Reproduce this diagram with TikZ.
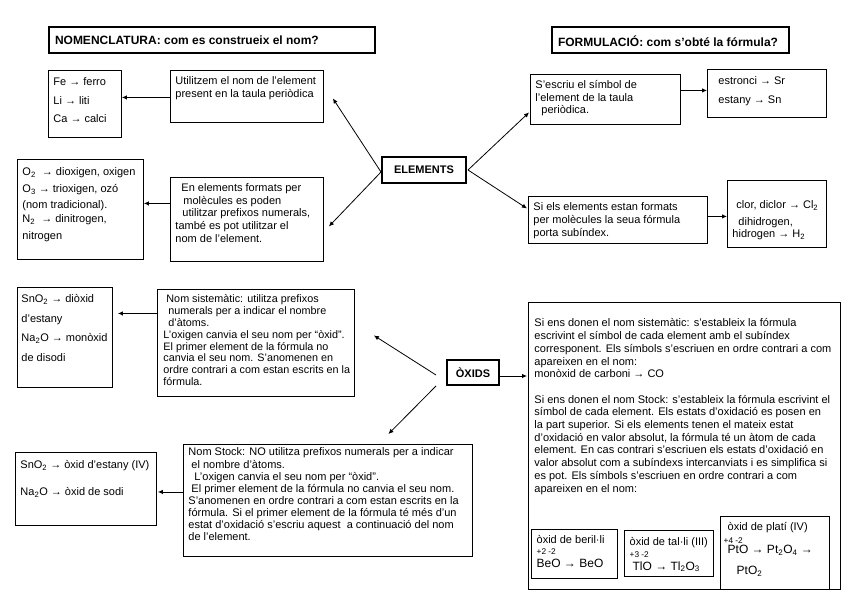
\documentclass[tikz,border=0pt]{standalone}
\usepackage{fontspec}
\setmainfont{Liberation Sans}
\usetikzlibrary{arrows.meta,calc}
\newcommand\mkbox[7][]{%
  \pgfmathsetmacro\bxw{#5-#3}%
  \pgfmathsetmacro\bxh{#6-#4}%
  \node[bx,#1] (#2) at (#3,#4) {\parbox[t][\bxh pt][t]{\bxw pt}{#7}};}
\newcommand\pd[2]{\vspace*{#1pt}\raggedright\leftskip=#2pt\relax\rule{0pt}{9pt}}
\newcommand\sbs[1]{\textsubscript{#1}}
\newcommand\ox[1]{{\fontsize{8.3}{9}\selectfont #1}}
\newcommand\fm[1]{{\fontsize{12}{14}\selectfont #1}}
\tikzset{
  bx/.style={draw, line width=0.9pt, inner sep=0pt, anchor=north west,
    font=\fontsize{11}{12.7}\selectfont},
  hdr/.style={line width=2pt, font=\bfseries\fontsize{12}{14}\selectfont},
  inb/.style={line width=1.3pt},
  hb/.style={draw, line width=2pt, inner sep=0pt, font=\bfseries\fontsize{11}{13}\selectfont},
  arr/.style={draw, line width=0.8pt, -{Latex[length=5pt,width=4.5pt]}}
}
\begin{document}
\begin{tikzpicture}[x=1pt,y=-1pt]
\useasboundingbox (0,0) rectangle (848,599);
% headers
\mkbox[hdr]{h1}{48}{26}{374}{52}{\pd{8.5}{6}NOMENCLATURA: com es construeix el nom?}
\mkbox[hdr]{h2}{551}{26}{788}{52}{\pd{8.5}{6}FORMULACIÓ: com s'obté la fórmula?}
% upper left
\mkbox{fe}{48}{70}{121}{137}{\fontsize{11}{18.5}\selectfont\pd{6.5}{5}Fe → ferro\\Li → liti\\Ca → calci}
\mkbox{utl}{170}{70}{323}{122}{\pd{5.5}{5}Utilitzem el nom de l'element\\present en la taula periòdica}
\mkbox{o2}{17}{159}{143}{259}{\fontsize{11}{16.5}\selectfont\pd{7.5}{5}O\sbs{2} \ → dioxigen, oxigen\\O\sbs{3} → trioxigen, ozó\\(nom tradicional).\\[-2.5pt]N\sbs{2} \ → dinitrogen,\\nitrogen}
\mkbox{en}{170}{177}{323}{261}{\pd{5}{5}\hspace*{6pt}En elements formats per\\\hspace*{8pt}molècules es poden\\\hspace*{7pt}utilitzar prefixos numerals,\\també es pot utilitzar el\\nom de l'element.}
\node[hb, minimum width=84pt, minimum height=26pt] (el) at (424,170) {ELEMENTS};
% upper right
\mkbox{se}{530}{74}{680}{124}{\fontsize{11}{12.2}\selectfont\pd{5.5}{5}S'escriu el símbol de\\l'element de la taula\\\hspace*{6pt}periòdica.}
\mkbox{es}{707}{69}{826}{117}{\fontsize{11}{18.5}\selectfont\pd{6.5}{11}estronci → Sr\\estany → Sn}
\mkbox{si}{528}{196}{707}{243}{\pd{5.5}{5}Si els elements estan formats\\per molècules la seua fórmula\\porta subíndex.}
\mkbox{cl}{727}{180}{826}{247}{\fontsize{11}{12.5}\selectfont\pd{19.5}{5}\hspace*{4pt}clor, diclor → Cl\sbs{2}\\[4pt]\hspace*{6pt}dihidrogen,\\hidrogen → H\sbs{2}}
% lower left
\mkbox{sn}{17}{287}{112}{387}{\fontsize{11}{19.5}\selectfont\pd{6.5}{4}SnO\sbs{2} → diòxid\\d'estany\\Na\sbs{2}O → monòxid\\de disodi}
\mkbox{ns}{157}{289}{354}{396}{\fontsize{10.8}{11.8}\selectfont\pd{4.5}{6}\hspace*{3pt}Nom sistemàtic: utilitza prefixos\\\hspace*{5pt}numerals per a indicar el nombre\\\hspace*{5pt}d'àtoms.\\L'oxigen canvia el seu nom per “òxid”.\\El primer element de la fórmula no\\canvia el seu nom. S'anomenen en\\ordre contrari a com estan escrits en la\\fórmula.}
\node[hb, minimum width=52pt, minimum height=25pt] (ox) at (473,372.5) {ÒXIDS};
\mkbox{st}{183}{444}{472}{556}{\fontsize{11}{12.1}\selectfont\pd{2.5}{5}Nom Stock: NO utilitza prefixos numerals per a indicar\\\hspace*{3pt}el nombre d'àtoms.\\\hspace*{6pt}L'oxigen canvia el seu nom per “òxid”.\\\hspace*{3pt}El primer element de la fórmula no canvia el seu nom.\\S'anomenen en ordre contrari a com estan escrits en la\\fórmula. Si el primer element de la fórmula té més d'un\\estat d'oxidació s'escriu aquest \ a continuació del nom\\de l'element.}
\mkbox{sn2}{15}{452}{156}{525}{\fontsize{11}{27}\selectfont\pd{7.5}{5}SnO\sbs{2} → òxid d'estany (IV)\\Na\sbs{2}O → òxid de sodi}
% big box
\mkbox{big}{528}{302}{840}{589}{\pd{15.5}{6}Si ens donen el nom sistemàtic: s'estableix la fórmula\\escrivint el símbol de cada element amb el subíndex\\corresponent. Els símbols s'escriuen en ordre contrari a com\\apareixen en el nom:\\monòxid de carboni → CO\\[12.7pt]Si ens donen el nom Stock: s'estableix la fórmula escrivint el\\símbol de cada element. Els estats d'oxidació es posen en\\la part superior. Si els elements tenen el mateix estat\\d'oxidació en valor absolut, la fórmula té un àtom de cada\\element. En cas contrari s'escriuen els estats d'oxidació en\\valor absolut com a subíndexs intercanviats i es simplifica si\\es pot. Els símbols s'escriuen en ordre contrari a com\\apareixen en el nom:}
\mkbox[inb]{bA}{531}{529}{617}{578}{\pd{5}{5}òxid de beril·li\\[-1.7pt]\ox{+2 -2}\\[0.3pt]\fm{BeO → BeO}}
\mkbox[inb]{bB}{624}{530}{713}{576}{\pd{5.5}{5}òxid de tal·li (III)\\[-0.7pt]\ox{+3 -2}\\[0.3pt]\hspace*{3pt}\fm{TlO → Tl\sbs{2}O\sbs{3}}}
\mkbox[inb]{bC}{720}{516}{829}{589}{\pd{4.5}{7}òxid de platí (IV)\\[0.3pt]\hspace*{-4pt}\ox{+4 -2}\\[-2pt]\fm{PtO → Pt\sbs{2}O\sbs{4} →}\\[8pt]\hspace*{9pt}\fm{PtO\sbs{2}}}
% connector coordinates
\coordinate (a1) at ([yshift=-1pt]utl.west);
\coordinate (a2) at ([yshift=16pt]en.west);
\coordinate (eL) at ([yshift=-2pt]el.west);
\coordinate (eR) at ([xshift=1pt]el.east);
\coordinate (t3) at ([xshift=9pt,yshift=-2pt]utl.east);
\coordinate (t4) at ([xshift=5pt,yshift=-7pt]en.east);
\coordinate (t5) at ([xshift=-1pt,yshift=-13pt]se.west);
\coordinate (t6) at ([xshift=-1pt,yshift=11.5pt]si.west);
\coordinate (a7) at ([yshift=9pt]se.east);
\coordinate (a8) at ([yshift=3.5pt]si.east);
\coordinate (a9) at ([yshift=29.5pt]ns.west);
\coordinate (oL1) at ([xshift=-10pt,yshift=-2.5pt]ox.west);
\coordinate (oL2) at ([xshift=-10pt,yshift=-13.5pt]ox.west);
\coordinate (t10) at ([xshift=19pt,yshift=7.5pt]ns.east);
\coordinate (t11) at ([xshift=60.5pt,yshift=10pt]st.north);
\coordinate (a12) at ([yshift=-3.5pt]ox.east);
\coordinate (a13) at ([yshift=8.5pt]st.west);
% connectors
\draw[arr] (a1) -- (a1 -| fe.east);
\draw[arr] (a2) -- (a2 -| o2.east);
\draw[arr] (eL) -- (t3);
\draw[arr] (eL) -- (t4);
\draw[arr] (eR) -- (t5);
\draw[arr] (eR) -- (t6);
\draw[arr] (a7) -- (a7 -| es.west);
\draw[arr] (a8) -- (a8 -| cl.west);
\draw[arr] (a9) -- ($(a9 -| sn.east)+(5,0)$);
\draw[arr] (oL1) -- (t10);
\draw[arr] (oL2) -- (t11);
\draw[arr] (a12) -- ($(a12 -| big.west)+(-1,0)$);
\draw[arr] (a13) -- ($(a13 -| sn2.east)+(1,0)$);
\end{tikzpicture}
\end{document}
